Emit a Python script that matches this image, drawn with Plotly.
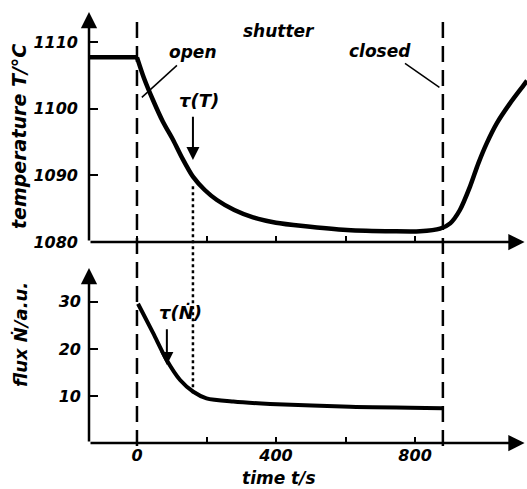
import plotly.graph_objects as go

# ---------------- data ----------------
# temperature before the shutter opens
t_pre = [-138, 0]
temp_pre = [1107.7, 1107.7]
# temperature after the shutter opens
t_temp = [0, 20, 46, 75, 104, 130, 161, 195, 230, 280, 334, 400, 478, 604, 737, 814, 872,
          901, 929, 958, 982, 1006, 1035, 1073, 1112, 1122]
temp = [1107.7, 1104.6, 1101.3, 1098.0, 1095.3, 1092.6, 1089.8, 1087.8, 1086.3, 1084.8, 1083.7,
        1082.9, 1082.4, 1081.8, 1081.6, 1081.6, 1082.0,
        1082.8, 1084.8, 1088.3, 1091.8, 1094.8, 1097.8, 1100.8, 1103.5, 1104.2]

t_flux = [3, 47, 85, 124, 162, 200, 277, 383, 613, 880]
flux = [29.6, 23.3, 17.7, 13.4, 10.9, 9.5, 8.8, 8.3, 7.7, 7.4]

t_open = 0
t_closed = 880
tau_T = 161
tau_T_curve = 1088.8
tau_N = 86
tau_N_curve = 10.6

x_ticks = [0, 200, 400, 600, 800]
x_ticklabels = ["0", "", "400", "", "800"]
T_ticks = [1080, 1090, 1100, 1110]
N_ticks = [10, 20, 30]

# ---------------- layout geometry ----------------
W, H = 527, 489
x_range = [-138, 1122]
T_range = [1080, 1114.5]
N_range = [0, 37.2]
top_dom = [1 - 242 / H, 1 - 12 / H]
bot_dom = [1 - 443 / H, 1 - 268 / H]


def T_to_paper(v):
    return top_dom[0] + (v - T_range[0]) / (T_range[1] - T_range[0]) * (top_dom[1] - top_dom[0])


def N_to_paper(v):
    return bot_dom[0] + (v - N_range[0]) / (N_range[1] - N_range[0]) * (bot_dom[1] - bot_dom[0])


FONT = dict(family="DejaVu Sans", size=17, color="black", style="italic", weight="bold")
TICKFONT = dict(FONT, size=16)

fig = go.Figure()
fig.add_trace(go.Scatter(x=t_pre, y=temp_pre, mode="lines", xaxis="x", yaxis="y",
                         line=dict(color="black", width=4.5),
                         showlegend=False, hoverinfo="skip"))
fig.add_trace(go.Scatter(x=t_temp, y=temp, mode="lines", xaxis="x", yaxis="y",
                         line=dict(color="black", width=4.5, shape="spline", smoothing=0.7),
                         showlegend=False, hoverinfo="skip"))
fig.add_trace(go.Scatter(x=t_flux, y=flux, mode="lines", xaxis="x2", yaxis="y2",
                         line=dict(color="black", width=4, shape="spline", smoothing=0.7),
                         showlegend=False, hoverinfo="skip"))

axis_common = dict(showgrid=False, zeroline=False, showline=False, ticks="inside",
                   tickcolor="black", tickwidth=2, tickfont=TICKFONT, automargin=False)

fig.update_layout(
    template="none",
    width=W, height=H, margin=dict(l=0, r=0, t=0, b=0, pad=0), autosize=False,
    paper_bgcolor="white", plot_bgcolor="white",
    xaxis=dict(domain=[89 / W, 1], range=x_range, anchor="y", tickvals=x_ticks,
               showticklabels=False, ticklen=6, **axis_common),
    yaxis=dict(domain=top_dom, range=T_range, anchor="x", tickvals=T_ticks,
               ticklen=9, ticklabelstandoff=10, **axis_common),
    xaxis2=dict(domain=[89 / W, 1], range=x_range, anchor="y2", tickvals=x_ticks,
                ticktext=x_ticklabels, ticklen=6, ticklabelstandoff=1, **axis_common),
    yaxis2=dict(domain=bot_dom, range=N_range, anchor="x2", tickvals=N_ticks,
                ticklen=9, ticklabelstandoff=7, **axis_common),
)

ann = []
# axis arrows
for xr, yr, y0, y1 in [("x", "y", T_range[0], T_range[1]), ("x2", "y2", N_range[0], N_range[1])]:
    ann.append(dict(x=x_range[0], y=y1, ax=x_range[0], ay=y0, xref=xr, yref=yr, axref=xr, ayref=yr,
                    showarrow=True, arrowhead=2, arrowsize=1.3, arrowwidth=2.5, arrowcolor="black",
                    text="", standoff=0))
    ann.append(dict(x=1115, y=y0, ax=x_range[0], ay=y0, xref=xr, yref=yr, axref=xr, ayref=yr,
                    showarrow=True, arrowhead=2, arrowsize=1.3, arrowwidth=2.5, arrowcolor="black",
                    text="", standoff=0))
# tau arrows
ann.append(dict(x=tau_T, y=1092.3, ax=tau_T, ay=1099, xref="x", yref="y", axref="x", ayref="y",
                showarrow=True, arrowhead=2, arrowsize=1.3, arrowwidth=2, arrowcolor="black", text=""))
ann.append(dict(x=tau_N, y=16.6, ax=tau_N, ay=24.5, xref="x2", yref="y2", axref="x2", ayref="y2",
                showarrow=True, arrowhead=2, arrowsize=1.3, arrowwidth=2, arrowcolor="black", text=""))


def label(text, px, py, size=18, angle=0):
    f = dict(FONT)
    f["size"] = size
    ann.append(dict(text=text, x=px / W, y=1 - py / H, xref="paper", yref="paper",
                    showarrow=False, font=f, textangle=angle, xanchor="center", yanchor="middle"))


label("τ(T)", 199, 100, 18)
label("τ(Ṅ)", 180, 312, 18)
label("shutter", 279, 31, 17)
label("open", 192, 52, 17)
label("closed", 380, 51, 17)
label("temperature T/°C", 19, 137, 19, -90)
label("flux Ṅ/a.u.", 20, 335, 18, -90)
label("time t/s", 279, 478, 17)
fig.update_layout(annotations=ann)

shapes = []
for tx in [t_open, t_closed]:
    shapes.append(dict(type="line", xref="x", yref="paper", x0=tx, x1=tx,
                       y0=N_to_paper(N_range[0]) - 3 / H, y1=1 - 18 / H,
                       line=dict(color="black", width=2.5, dash="16px,8px")))
shapes.append(dict(type="line", xref="x", yref="paper", x0=tau_T, x1=tau_T,
                   y0=N_to_paper(tau_N_curve), y1=T_to_paper(tau_T_curve),
                   line=dict(color="black", width=2.5, dash="dot")))
# leader lines
shapes.append(dict(type="line", xref="x", yref="y", x0=115, y0=1106.5, x1=14, y1=1101.7,
                   line=dict(color="black", width=1.5)))
shapes.append(dict(type="line", xref="x", yref="y", x0=771, y0=1106.8, x1=870, y1=1103.2,
                   line=dict(color="black", width=1.5)))
fig.update_layout(shapes=shapes)

fig.write_html("out.html")
